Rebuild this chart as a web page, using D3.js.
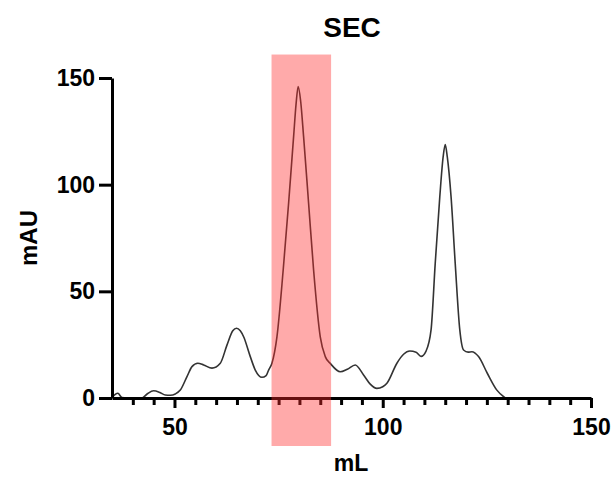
<!DOCTYPE html>
<html>
<head>
<meta charset="utf-8">
<script src="https://cdn.jsdelivr.net/npm/d3@7"></script>
<style>
  body { margin: 0; background: #fff; }
  svg { display: block; font-family: "Liberation Sans", Arial, sans-serif; }
</style>
</head>
<body>
<div id="chart"></div>
<script>
// elution volume (mL) and absorbance (mAU)
const volume = [35, 36.4, 37.4, 38.5, 42.2, 43.5, 45.0, 46.5, 47.8, 49.0, 50.2, 51.4, 53.0, 54.2, 55.6, 57.0,
  59.0, 61.0, 62.6, 64.0, 64.9, 65.8, 66.6, 68.2, 69.4, 71.0, 72.0, 72.6, 73.4, 74.6, 76.1, 77.4, 78.6, 79.2,
  79.7, 80.3, 81.0, 82.2, 83.4, 85.0, 86.2, 87.5, 89.8, 91.5, 93.4, 95.4, 97.0, 98.6, 100.0, 101.0, 103.4,
  105.0, 106.5, 108.0, 109.2, 110.4, 111.6, 112.6, 113.7, 114.5, 115.0, 115.5, 116.4, 117.4, 118.5, 119.4,
  120.5, 121.4, 123.0, 125.1, 127.4, 129.4];
const mAU = [0.3, 2.2, 0.2, 0, 0, 2.0, 3.4, 2.6, 1.4, 1.3, 1.9, 3.7, 10, 14.7, 16.3, 15.5,
  14.0, 16.3, 24.8, 31.5, 32.7, 31.5, 28.7, 19.4, 13.1, 9.7, 10.5, 13.1, 16.3, 28.7, 60, 91.3, 122.5, 138,
  146, 139, 122.5, 91.3, 60, 28.7, 19.4, 16, 12.3, 13.5, 15.5, 10.8, 6.5, 4.5, 5.3, 6.9, 16.3,
  20.5, 22, 21.5, 19.5, 22, 31.9, 63.1, 94.4, 113, 118.8, 113, 94.4, 63.1, 31.9, 22.5,
  21.5, 21.7, 19.4, 11.6, 3.7, 0];

// collected fraction (highlighted band), in mL / mAU
const fractionVolume = [73.3, 87.6];
const fractionMAU = [-22.5, 161];

const xMajor = [50, 100, 150];
const xMinor = d3.range(40, 150, 5).filter(v => !xMajor.includes(v));
const yTicks = [0, 50, 100, 150];

const width = 612;
const height = 478;
const margin = { top: 78, right: 21, bottom: 80, left: 112 };

const svg = d3.select('#chart')
  .append('svg')
  .attr('width', width)
  .attr('height', height);

const xScale = d3.scaleLinear()
  .domain([35, 150])
  .range([margin.left, width - margin.right]);

const yScale = d3.scaleLinear()
  .domain([0, 150])
  .range([height - margin.bottom, margin.top]);

// trace
const points = volume.map((v, i) => [v, mAU[i]]);
const line = d3.line()
  .x(d => xScale(d[0]))
  .y(d => yScale(d[1]))
  .curve(d3.curveMonotoneX);

svg.append('path')
  .datum(points)
  .attr('d', line)
  .attr('fill', 'none')
  .attr('stroke', '#333')
  .attr('stroke-width', 1.6);

// axes
const xAxisG = svg.append('g')
  .attr('transform', `translate(0, ${yScale(0)})`);

xAxisG.append('g')
  .call(d3.axisBottom(xScale).tickValues(xMinor).tickSize(7).tickSizeOuter(0).tickFormat(''))
  .call(g => g.select('.domain').remove());

xAxisG.append('g')
  .call(d3.axisBottom(xScale).tickValues(xMajor).tickSize(10).tickSizeOuter(0).tickPadding(11));

const yAxisG = svg.append('g')
  .attr('transform', `translate(${xScale(35)}, 0)`)
  .call(d3.axisLeft(yScale).tickValues(yTicks).tickSize(13).tickSizeOuter(0).tickPadding(4));

svg.selectAll('.domain, .tick line')
  .attr('stroke', '#000')
  .attr('stroke-width', 3);

svg.selectAll('.tick text')
  .attr('fill', '#000')
  .style('font-size', '23px')
  .style('font-weight', 'bold');

// highlighted fraction, drawn over the trace
svg.append('rect')
  .attr('x', xScale(fractionVolume[0]))
  .attr('y', yScale(fractionMAU[1]))
  .attr('width', xScale(fractionVolume[1]) - xScale(fractionVolume[0]))
  .attr('height', yScale(fractionMAU[0]) - yScale(fractionMAU[1]))
  .attr('fill', '#ff2a2a')
  .attr('fill-opacity', 0.4);

// labels
svg.append('text')
  .attr('x', 352)
  .attr('y', 37)
  .attr('text-anchor', 'middle')
  .style('font-size', '28px')
  .style('font-weight', 'bold')
  .text('SEC');

svg.append('text')
  .attr('x', 351)
  .attr('y', 471)
  .attr('text-anchor', 'middle')
  .style('font-size', '23px')
  .style('font-weight', 'bold')
  .text('mL');

svg.append('text')
  .attr('transform', 'translate(37, 238) rotate(-90)')
  .attr('text-anchor', 'middle')
  .style('font-size', '24px')
  .style('font-weight', 'bold')
  .text('mAU');
</script>
</body>
</html>
